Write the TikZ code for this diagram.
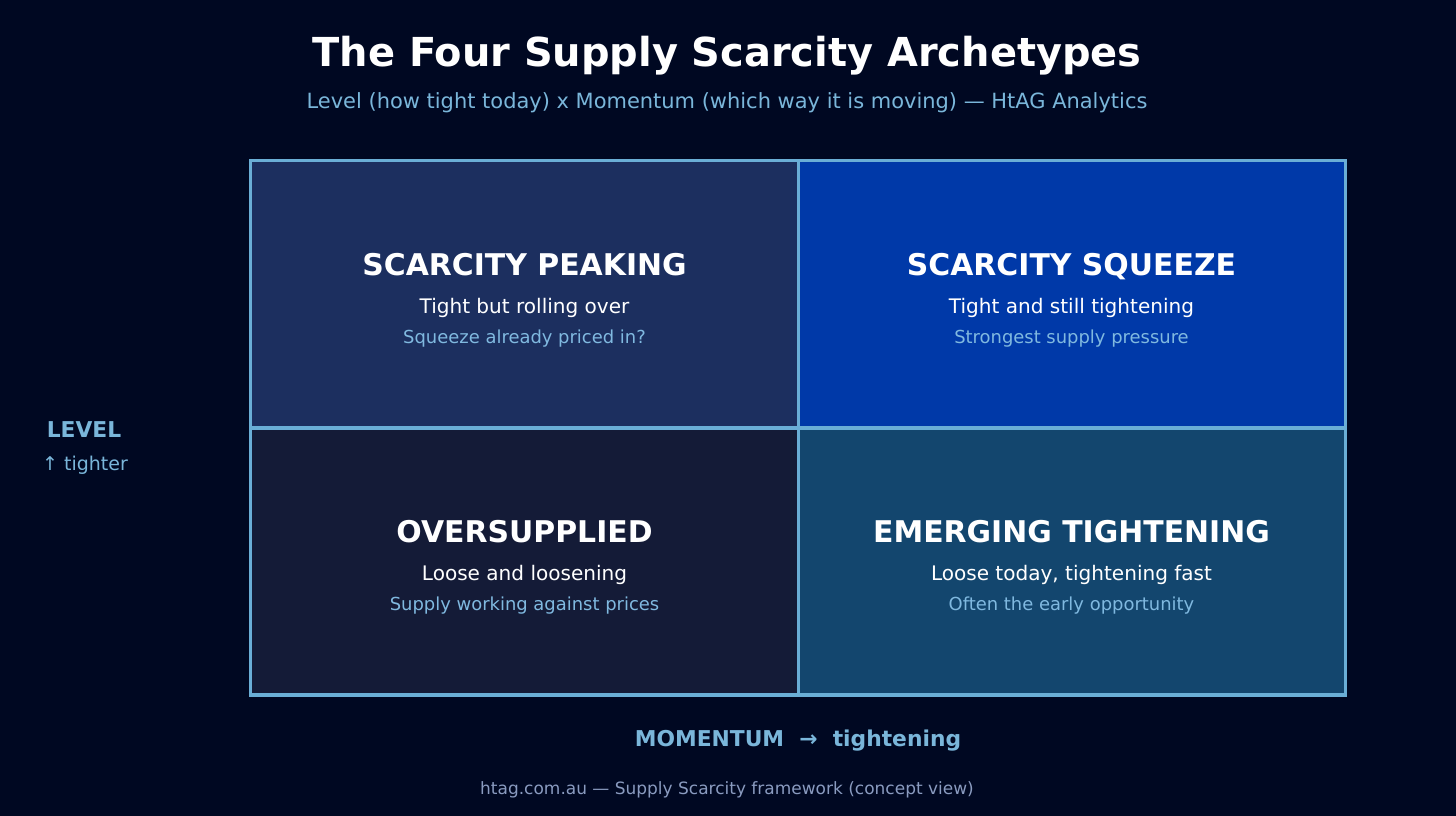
\documentclass[tikz,border=0pt]{standalone}
\usepackage{fontspec}
\setmainfont{DejaVu Sans}
\usetikzlibrary{positioning}
\definecolor{bgnavy}{HTML}{000822}
\definecolor{gridblue}{HTML}{6AAED6}
\definecolor{labelblue}{HTML}{7AB6DA}
\definecolor{noteblue}{HTML}{80B9E0}
\definecolor{footgray}{HTML}{8A9BC0}
\definecolor{qpeak}{HTML}{1C2F5F}
\definecolor{qsqueeze}{HTML}{0039A8}
\definecolor{qover}{HTML}{141B37}
\definecolor{qemerge}{HTML}{13466E}
\newcommand{\fsz}[1]{\fontsize{#1}{#1}\selectfont}
\tikzset{
  cell/.style={minimum width=5.47cm,minimum height=2.67cm,inner sep=0pt,outer sep=0pt},
  qtitle/.style={font=\bfseries\fsz{8.5pt},text=white,text height=0.73em,text depth=0.2em},
  qmain/.style={font=\fsz{5.7pt},text=white},
  qnote/.style={font=\fsz{5.1pt},text=noteblue},
  axislabel/.style={font=\bfseries\fsz{6.2pt},text=labelblue},
}

\begin{document}
\begin{tikzpicture}[x=0.01cm,y=-0.01cm]
\fill[bgnavy] (0,0) rectangle (1456,816);
\useasboundingbox (0,0) rectangle (1456,816);
% heading
\node[font=\bfseries\fsz{11.35pt},text=white] (title) at (727,56) {The Four Supply Scarcity Archetypes};
\node[font=\fsz{5.96pt},text=labelblue] (subtitle) at (727,103) {Level (how tight today) x Momentum (which way it is moving) — HtAG Analytics};
% quadrants
\node[cell,fill=qpeak] (peak) at (524.5,294.5) {};
\node[cell,fill=qsqueeze] (squeeze) at (1071.5,294.5) {};
\node[cell,fill=qover] (over) at (524.5,561.5) {};
\node[cell,fill=qemerge] (emerge) at (1071.5,561.5) {};
\draw[gridblue,line width=0.9pt] (peak.north west) rectangle (emerge.south east);
\draw[gridblue,line width=0.9pt] (peak.north east) -- (over.south east);
\draw[gridblue,line width=0.9pt] (peak.south west) -- (squeeze.south east);
% quadrant texts
\foreach \q/\t/\m/\n in {peak/SCARCITY PEAKING/Tight but rolling over/Squeeze already priced in?,
  squeeze/SCARCITY SQUEEZE/Tight and still tightening/Strongest supply pressure,
  over/OVERSUPPLIED/Loose and loosening/Supply working against prices,
  emerge/EMERGING TIGHTENING/{Loose today, tightening fast}/Often the early opportunity} {
  \node[qtitle] (\q-t) at ([yshift=0.285cm]\q.center) {\t};
  \node[qmain] (\q-m) at ([yshift=-0.135cm]\q.center) {\m};
  \node[qnote] (\q-n) at ([yshift=-0.44cm]\q.center) {\n};
}
% axes
\node[axislabel] (level) at (84,430) {LEVEL};
\node[font=\fsz{5.4pt},text=labelblue] (tighter) at (85,465) {↑ tighter};
\node[axislabel] (momentum) at (798,741) {MOMENTUM~~→~~tightening};
\node[font=\fsz{4.83pt},text=footgray] (footer) at (727,790) {htag.com.au — Supply Scarcity framework (concept view)};
\end{tikzpicture}
\end{document}
